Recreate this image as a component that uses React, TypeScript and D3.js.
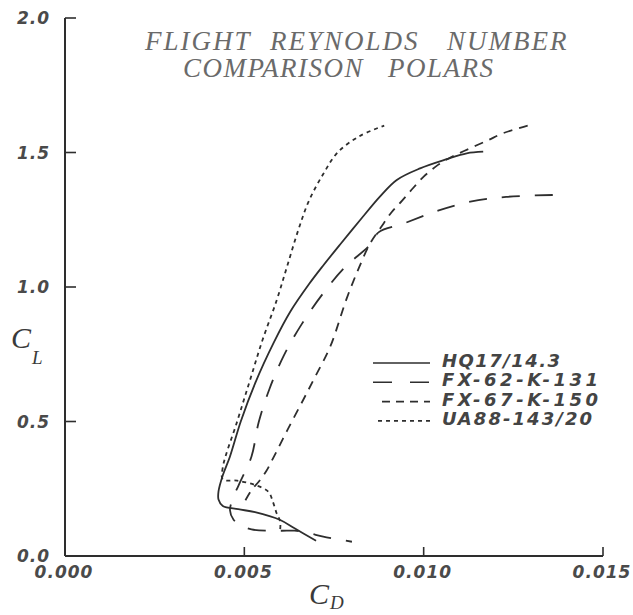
import React from "react";
import * as d3 from "d3";

// ---- data (CD, CL) ----
const hq17: [number, number][] = [
  [0.007, 0.057], [0.0064, 0.103], [0.006, 0.134], [0.0053, 0.163], [0.00483, 0.174],
  [0.0044, 0.186], [0.00428, 0.21], [0.00428, 0.24], [0.0044, 0.3], [0.0046, 0.37],
  [0.0049, 0.5], [0.0053, 0.642], [0.00583, 0.796], [0.00628, 0.908], [0.0068, 1.01],
  [0.0072, 1.08], [0.00767, 1.158], [0.00823, 1.249], [0.00878, 1.336], [0.00925, 1.398],
  [0.0099, 1.441], [0.01064, 1.475], [0.0112, 1.497], [0.01166, 1.503],
];
const fx62: [number, number][] = [
  [0.0136, 1.342], [0.0123, 1.335], [0.0113, 1.317], [0.0104, 1.284], [0.0094, 1.234],
  [0.00875, 1.204], [0.0085, 1.156], [0.0078, 1.073], [0.0072, 0.977], [0.0066, 0.862],
  [0.0061, 0.745], [0.0057, 0.621], [0.0054, 0.497], [0.0052, 0.37], [0.0049, 0.28],
  [0.0047, 0.22], [0.0046, 0.17], [0.0047, 0.135], [0.0049, 0.115], [0.0052, 0.099],
  [0.006, 0.094], [0.0064, 0.094], [0.0068, 0.085], [0.0072, 0.072], [0.008, 0.053],
];
const fx67: [number, number][] = [
  [0.0129, 1.6], [0.0122, 1.571], [0.0118, 1.546], [0.0113, 1.516], [0.0108, 1.485],
  [0.0104, 1.454], [0.01, 1.41], [0.0097, 1.367], [0.0094, 1.321], [0.0091, 1.277],
  [0.0088, 1.22], [0.0085, 1.16], [0.0082, 1.073], [0.00785, 0.956], [0.0074, 0.78],
  [0.00695, 0.66], [0.00664, 0.58], [0.0062, 0.468], [0.0058, 0.363],
  [0.0056, 0.313], [0.0054, 0.276], [0.0052, 0.245], [0.005, 0.2],
];
const ua88: [number, number][] = [
  [0.006, 0.1], [0.006, 0.128], [0.0059, 0.159], [0.0058, 0.2], [0.00567, 0.239],
  [0.0053, 0.264], [0.0048, 0.28], [0.0044, 0.285], [0.0044, 0.33], [0.0048, 0.5],
  [0.00515, 0.65], [0.0055, 0.8], [0.0059, 0.95], [0.0062, 1.08], [0.0065, 1.21],
  [0.0068, 1.32], [0.0072, 1.42], [0.0076, 1.5], [0.0082, 1.56], [0.0089, 1.6],
];

const seriesNames = ["HQ17/14.3", "FX-62-K-131", "FX-67-K-150", "UA88-143/20"];
const seriesData = [hq17, fx62, fx67, ua88];
const seriesDash = ["none", "18,15", "9,7", "4,4"];
const legendDash = ["none", "19,18", "8,6", "4,4"];
const legendStart = [373, 373, 382, 378];
const legendWidths = [118, 156, 156, 150];

const xTicks = [0, 0.005, 0.01, 0.015];
const xTickLabels = ["0.000", "0.005", "0.010", "0.015"];
const yTicks = [0, 0.5, 1.0, 1.5, 2.0];
const yTickLabels = ["0.0", "0.5", "1.0", "1.5", "2.0"];
const titleWords1 = ["FLIGHT", "REYNOLDS", "NUMBER"];
const titleWords2 = ["COMPARISON", "POLARS"];

export default function App() {
  const W = 633, H = 615;
  const x = d3.scaleLinear().domain([0, 0.015]).range([65, 603]);
  const y = d3.scaleLinear().domain([0, 2]).range([556, 18]);
  const line = d3
    .line<[number, number]>()
    .x((d) => x(d[0]))
    .y((d) => y(d[1]))
    .curve(d3.curveCatmullRom.alpha(0.5));

  const ink = "#2e2e2e";
  const tickFont = "'DejaVu Sans', sans-serif";
  const titleX1 = [145, 270, 447];
  const titleX2 = [183, 388];

  return (
    <svg
      width={W}
      height={H}
      viewBox={`0 0 ${W} ${H}`}
      style={{ position: "absolute", left: 0, top: 0, background: "#fff" }}
    >
      <rect x={0} y={0} width={W} height={H} fill="#fff" />
      {/* title */}
      <text y={50} fontFamily="'Liberation Serif', serif" fontStyle="italic" fontSize={27}
        letterSpacing={2} fill="#6a6a6a">
        {titleWords1.map((w, i) => (
          <tspan key={w} x={titleX1[i]}>{w}</tspan>
        ))}
      </text>
      <text y={77} fontFamily="'Liberation Serif', serif" fontStyle="italic" fontSize={27}
        letterSpacing={1.5} fill="#6a6a6a">
        {titleWords2.map((w, i) => (
          <tspan key={w} x={titleX2[i]}>{w}</tspan>
        ))}
      </text>

      {/* axes */}
      <line x1={x(0)} x2={x(0)} y1={y(2)} y2={y(0)} stroke={ink} strokeWidth={2} />
      <line x1={x(0)} x2={x(0.015)} y1={y(0)} y2={y(0)} stroke={ink} strokeWidth={2} />
      {yTicks.filter((t) => t > 0).map((t) => (
        <line key={"yt" + t} x1={x(0)} x2={x(0) + 11} y1={y(t)} y2={y(t)} stroke={ink} strokeWidth={1.6} />
      ))}
      {xTicks.filter((t) => t > 0).map((t) => (
        <line key={"xt" + t} x1={x(t)} x2={x(t)} y1={y(0)} y2={y(0) - 9} stroke={ink} strokeWidth={1.6} />
      ))}
      {yTicks.map((t, i) => (
        <text key={"yl" + t} x={50} y={y(t) + 6} textAnchor="end" fontFamily={tickFont}
          fontStyle="italic" fontWeight="bold" fontSize={17} letterSpacing={1} fill="#4a4a4a">
          {yTickLabels[i]}
        </text>
      ))}
      {xTicks.map((t, i) => (
        <text key={"xl" + t} x={x(t) - 1} y={578} textAnchor="middle" fontFamily={tickFont}
          fontStyle="italic" fontWeight="bold" fontSize={17} letterSpacing={1} fill="#4a4a4a">
          {xTickLabels[i]}
        </text>
      ))}

      {/* axis titles */}
      <text x={11} y={348} fontFamily="'Liberation Serif', serif" fontStyle="italic" fontSize={30} fill="#3a3a3a">
        C<tspan fontSize={19} dy={16} dx={1}>L</tspan>
      </text>
      <text x={309} y={604} fontFamily="'Liberation Serif', serif" fontStyle="italic" fontSize={30} fill="#3a3a3a">
        C<tspan fontSize={19} dy={5} dx={1}>D</tspan>
      </text>

      {/* curves */}
      {seriesData.map((s, i) => (
        <path key={"s" + i} d={line(s) || ""} fill="none" stroke={ink} strokeWidth={1.8}
          strokeDasharray={seriesDash[i]} strokeLinejoin="round" />
      ))}

      {/* legend */}
      {seriesNames.map((n, i) => {
        const by = 367 + i * 19.3;
        return (
          <g key={"lg" + i}>
            <line x1={legendStart[i]} x2={430} y1={by - 4} y2={by - 4} stroke={ink} strokeWidth={1.6}
              strokeDasharray={legendDash[i]} />
            <text x={442} y={by} textLength={legendWidths[i]} lengthAdjust="spacing"
              fontFamily={tickFont} fontStyle="italic" fontWeight="bold" fontSize={18} fill="#444">
              {n}
            </text>
          </g>
        );
      })}
    </svg>
  );
}
